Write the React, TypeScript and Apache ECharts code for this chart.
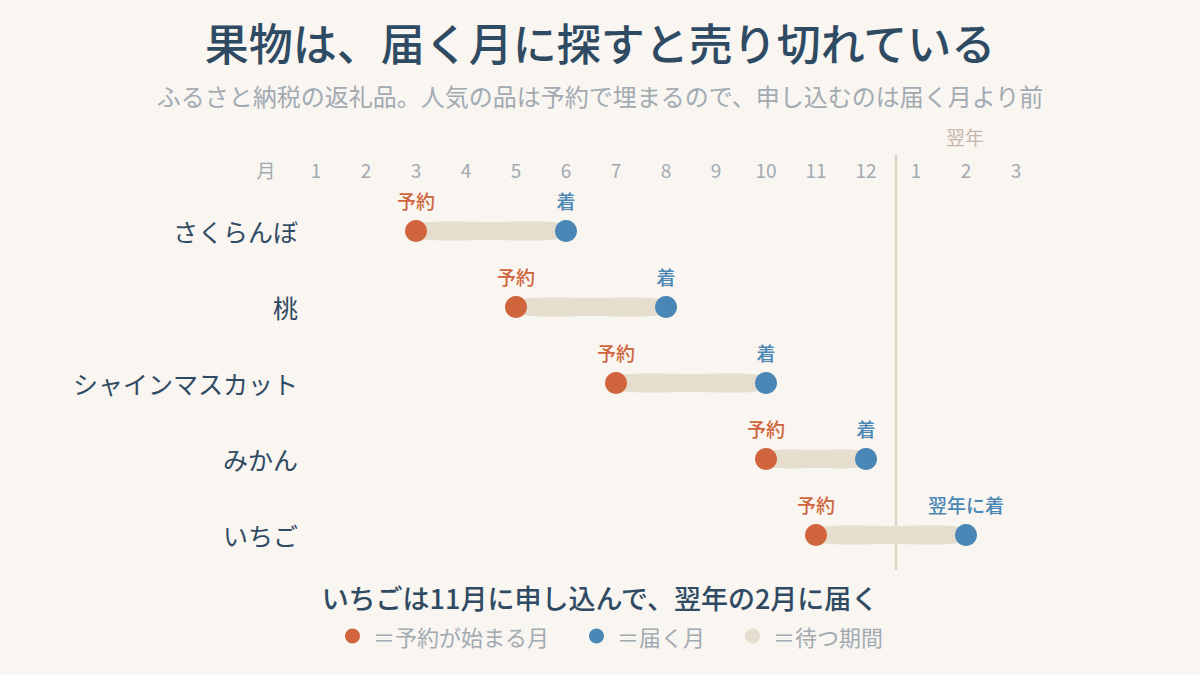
import { useEffect, useRef } from "react";
import * as echarts from "echarts";

// 果物ごとの予約開始月と届く月（翌年は 13, 14...）
const fruits = ["さくらんぼ", "桃", "シャインマスカット", "みかん", "いちご"];
const startMonths = [3, 5, 7, 10, 11];
const arriveMonths = [6, 8, 10, 12, 14];
const arriveLabels = ["着", "着", "着", "着", "翌年に着"];
const yearBreak = 12.6;

const NAVY = "#2f4a63";
const GRAY = "#a2aab2";
const ORANGE = "#d0653d";
const BLUE = "#4b87b6";
const BEIGE = "#e5ddce";
const FONT = "'Noto Sans CJK JP', 'Noto Sans', sans-serif";

const monthLabel = (v: number) => {
    if (v === 0) return "月";
    if (v >= 1 && v <= 12) return String(v);
    if (v >= 13 && v <= 15) return String(v - 12);
    return "";
};

export default function App() {
    const chartRef = useRef<HTMLDivElement>(null);

    useEffect(() => {
        if (!chartRef.current) return;
        const chart = echarts.init(chartRef.current, null, { renderer: "svg" });

        const option = {
            animation: false,
            backgroundColor: "#f9f5f0",
            textStyle: { fontFamily: FONT },
            title: [
                {
                    text: "果物は、届く月に探すと売り切れている",
                    left: "center",
                    top: 15,
                    textStyle: { fontFamily: FONT, fontSize: 44, fontWeight: 500, color: NAVY },
                },
                {
                    text: "ふるさと納税の返礼品。人気の品は予約で埋まるので、申し込むのは届く月より前",
                    left: "center",
                    top: 78,
                    textStyle: { fontFamily: FONT, fontSize: 24, fontWeight: "normal", color: GRAY },
                },
                {
                    text: "いちごは11月に申し込んで、翌年の2月に届く",
                    left: "center",
                    top: 579,
                    textStyle: { fontFamily: FONT, fontSize: 27, fontWeight: 500, color: NAVY },
                },
            ],
            legend: {
                top: 620,
                left: 340,
                icon: "circle",
                itemWidth: 15,
                itemHeight: 15,
                itemGap: 40,
                textStyle: { fontFamily: FONT, fontSize: 22, color: GRAY, padding: [0, 0, 0, 8] },
                data: ["＝予約が始まる月", "＝届く月", "＝待つ期間"],
            },
            grid: { left: 266, width: 800, top: 193, height: 380 },
            xAxis: {
                type: "value",
                position: "top",
                min: 0,
                max: 16,
                interval: 1,
                axisLine: { show: false },
                axisTick: { show: false },
                splitLine: { show: false },
                axisLabel: {
                    margin: 14,
                    fontFamily: FONT,
                    fontSize: 19,
                    color: GRAY,
                    formatter: monthLabel,
                },
            },
            yAxis: {
                type: "category",
                inverse: true,
                data: fruits,
                axisLine: { show: false },
                axisTick: { show: false },
                splitLine: { show: false },
                axisLabel: { margin: -32, fontFamily: FONT, fontSize: 25, color: NAVY },
            },
            graphic: [
                {
                    type: "text",
                    left: 946,
                    top: 127,
                    style: { text: "翌年", fontFamily: FONT, fontSize: 19, fill: "#c6b6ac" },
                },
            ],
            series: [
                {
                    name: "divider",
                    type: "custom",
                    silent: true,
                    data: [[yearBreak]],
                    renderItem: (params: any, api: any) => {
                        const x = api.coord([api.value(0), 0])[0];
                        const cs = params.coordSys;
                        return {
                            type: "line",
                            shape: { x1: x, y1: cs.y - 38, x2: x, y2: cs.y + cs.height - 3 },
                            style: { stroke: "#ddd4c4", lineWidth: 2.5 },
                        };
                    },
                },
                {
                    name: "＝待つ期間",
                    type: "custom",
                    itemStyle: { color: BEIGE },
                    encode: { x: [0, 1], y: 2 },
                    data: fruits.map((_, i) => [startMonths[i], arriveMonths[i], i]),
                    renderItem: (_params: any, api: any) => {
                        const s = api.coord([api.value(0), api.value(2)]);
                        const e = api.coord([api.value(1), api.value(2)]);
                        const mid = (s[0] + e[0]) / 2;
                        return {
                            type: "polygon",
                            shape: {
                                smooth: 0.3,
                                points: [
                                    [s[0], s[1] - 7],
                                    [mid, s[1] - 9],
                                    [e[0], e[1] - 7],
                                    [e[0], e[1] + 7],
                                    [mid, s[1] + 9],
                                    [s[0], s[1] + 7],
                                ],
                            },
                            style: { fill: BEIGE },
                        };
                    },
                },
                {
                    name: "＝予約が始まる月",
                    type: "scatter",
                    symbolSize: 22,
                    itemStyle: { color: ORANGE, opacity: 1 },
                    data: fruits.map((_, i) => [startMonths[i], i]),
                    label: {
                        show: true,
                        position: "top",
                        distance: 10,
                        formatter: "予約",
                        fontFamily: FONT,
                        fontSize: 19,
                        fontWeight: 500,
                        color: ORANGE,
                    },
                    z: 3,
                },
                {
                    name: "＝届く月",
                    type: "scatter",
                    symbolSize: 22,
                    itemStyle: { color: BLUE, opacity: 1 },
                    data: fruits.map((_, i) => [arriveMonths[i], i]),
                    label: {
                        show: true,
                        position: "top",
                        distance: 10,
                        formatter: (p: any) => arriveLabels[p.dataIndex],
                        fontFamily: FONT,
                        fontSize: 19,
                        fontWeight: 500,
                        color: BLUE,
                    },
                    z: 3,
                },
            ],
        };

        chart.setOption(option);
        return () => chart.dispose();
    }, []);

    return (
        <div
            ref={chartRef}
            style={{ position: "fixed", left: 0, top: 0, width: 1200, height: 675 }}
        />
    );
}
